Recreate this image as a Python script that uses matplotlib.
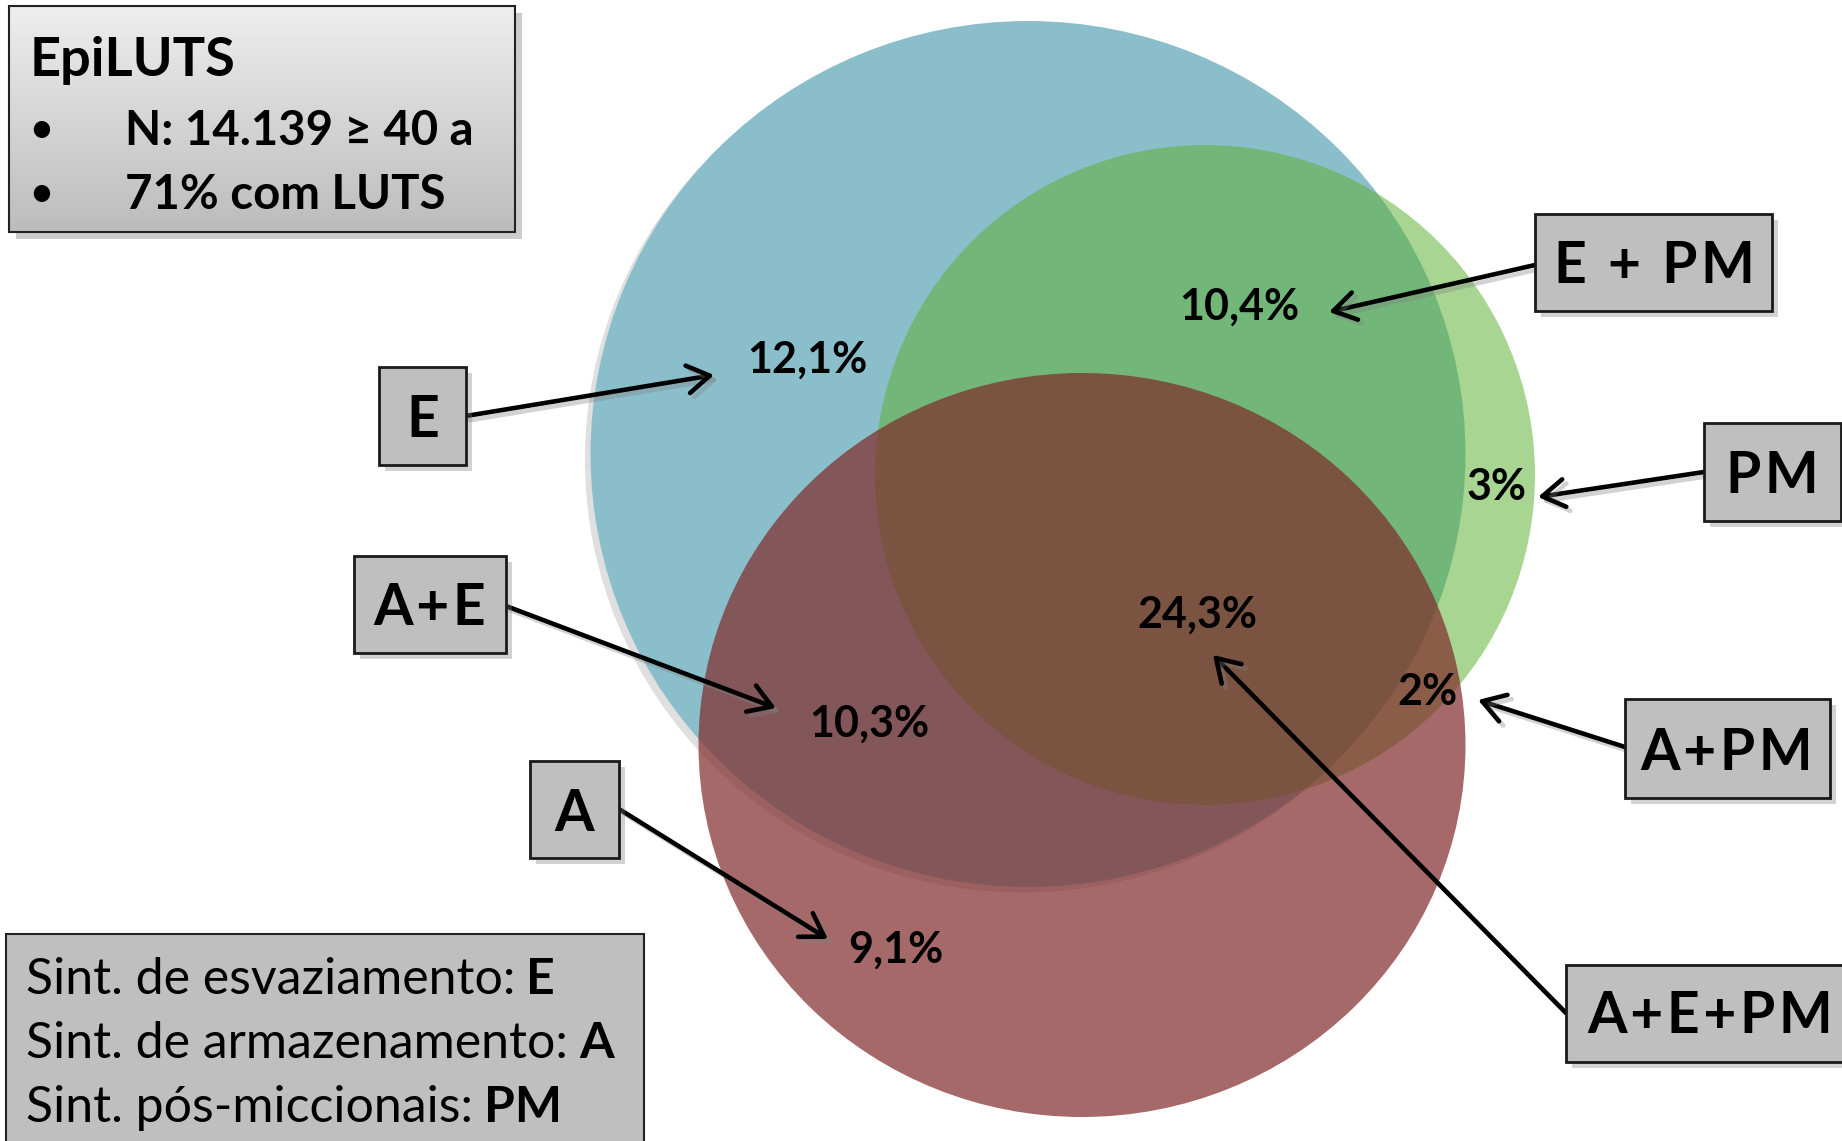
import numpy as np
import matplotlib
matplotlib.use("Agg")
import matplotlib.pyplot as plt
import matplotlib.patheffects as pe
from matplotlib.patches import Ellipse, Rectangle, FancyArrowPatch

plt.rcParams['font.family'] = ['Lato', 'DejaVu Sans']

# data
title = "EpiLUTS"
bullets = ["N: 14.139 \u2265 40 a", "71% com LUTS"]
legend_names = ["Sint. de esvaziamento:", "Sint. de armazenamento:", "Sint. p\u00f3s-miccionais:"]
legend_codes = ["E", "A", "PM"]
region_labels = ["E", "A+E", "A", "E + PM", "PM", "A+PM", "A+E+PM"]
region_pcts = [12.1, 10.3, 9.1, 10.4, 3.0, 2.0, 24.3]

# layout (pixel coordinates, y downwards)
sets = [  # (cx, cy, width, height, color, alpha)  E, PM, A
    (1028, 454, 875, 866, (139/255, 190/255, 203/255), 1.0),
    (1205, 475, 660, 660, (92/255, 178/255, 49/255), 0.53),
    (1082, 745, 767, 744, (128/255, 42/255, 42/255), 0.70),
]
label_boxes = [  # x0, y0, x1, y1, text x, text baseline
    (379, 367, 466, 465, 423, 437),
    (354, 556, 506, 653, 430, 625),
    (530, 761, 619, 858, 574, 831),
    (1535, 214, 1772, 311, 1654, 283),
    (1704, 423, 1841, 521, 1772, 493),
    (1625, 699, 1830, 798, 1727, 770),
    (1566, 965, 1850, 1062, 1710, 1033),
]
pct_pos = [(807, 373), (869, 737), (896, 963), (1239, 320), (1497, 500), (1427, 705), (1197, 628)]
arrows = [
    ((466, 416), (714, 375)),
    ((506, 606), (776, 708)),
    ((619, 809), (828, 939)),
    ((1535, 265), (1329, 312)),
    ((1704, 472), (1538, 497)),
    ((1625, 747), (1478, 700)),
    ((1566, 1013), (1213, 655)),
]

W, H = 1842, 1141
fig = plt.figure(figsize=(W / 100, H / 100), dpi=100)
ax = fig.add_axes([0, 0, 1, 1])

shadow = [pe.SimplePatchShadow(offset=(4, -4), shadow_rgbFace="gray", alpha=0.35), pe.Normal()]
lshadow = [pe.SimpleLineShadow(offset=(3, -3), shadow_color="gray", alpha=0.35), pe.Normal()]

for i, (cx, cy, w, h, col, a) in enumerate(sets):
    c = Ellipse((cx, cy), w, h, facecolor=col, alpha=a, edgecolor="none", zorder=1 + i)
    if i == 0:
        c.set_path_effects([pe.SimplePatchShadow(offset=(-4, -4), shadow_rgbFace="gray", alpha=0.25), pe.Normal()])
    ax.add_patch(c)

# header box with gradient
x0, y0, x1, y1 = 9, 6, 515, 232
ax.add_patch(Rectangle((x0, y0), x1 - x0, y1 - y0, facecolor="#d0d0d0", edgecolor="none",
                       zorder=5, path_effects=[pe.SimplePatchShadow(offset=(5, -5), shadow_rgbFace="gray", alpha=0.4)]))
grad = np.linspace(238, 188, 100)[:, None] / 255
ax.imshow(np.dstack([grad, grad, grad]), extent=(x0, x1, y1, y0), origin="upper", aspect="auto", zorder=6)
ax.add_patch(Rectangle((x0, y0), x1 - x0, y1 - y0, facecolor="none", edgecolor="#222222", lw=1.5, zorder=7))
ax.set_xlim(0, W)
ax.set_ylim(H, 0)
ax.axis("off")
ax.text(30, 76, title, fontsize=39, fontweight="bold", zorder=8)
for k, b in enumerate(bullets):
    yb = 145 + 64 * k
    ax.text(30, yb - 4, "\u2022", fontsize=27, fontweight="bold", zorder=8)
    ax.text(125, yb, b, fontsize=34, fontweight="bold", zorder=8)

# legend box
ax.add_patch(Rectangle((6, 934), 638, 220, facecolor="#bfbfbf", edgecolor="#222222", lw=1.5, zorder=5))
fig.canvas.draw()
renderer = fig.canvas.get_renderer()
for k, (nm, code) in enumerate(zip(legend_names, legend_codes)):
    yb = 994 + 64 * k
    t = ax.text(26, yb, nm, fontsize=36, zorder=8)
    bb = t.get_window_extent(renderer)
    ax.text(bb.x1 + 11, yb, code, fontsize=36, fontweight="bold", zorder=8)

# label boxes
for (bx0, by0, bx1, by1, tx, ty), lab in zip(label_boxes, region_labels):
    ax.add_patch(Rectangle((bx0, by0), bx1 - bx0, by1 - by0, facecolor="#bfbfbf", edgecolor="#1a1a1a",
                           lw=2, zorder=9, path_effects=shadow))
    spaced = "\u200a".join(lab)
    ax.text(tx, ty, spaced, fontsize=41, fontweight="bold", ha="center", va="baseline", zorder=10,
            family=["Lato", "DejaVu Sans"])

# arrows
for (p0, p1) in arrows:
    ar = FancyArrowPatch(p0, p1, arrowstyle="->,head_length=0.8,head_width=0.5", mutation_scale=20,
                         lw=3.3, color="black", shrinkA=0, shrinkB=0, zorder=8, path_effects=lshadow)
    ax.add_patch(ar)

# percentages
for (px, py), v in zip(pct_pos, region_pcts):
    s = ("%g" % v).replace(".", ",") + "%"
    ax.text(px, py, s, fontsize=31, fontweight="bold", ha="center", va="baseline", zorder=10)

fig.savefig("out.png", dpi=100)
